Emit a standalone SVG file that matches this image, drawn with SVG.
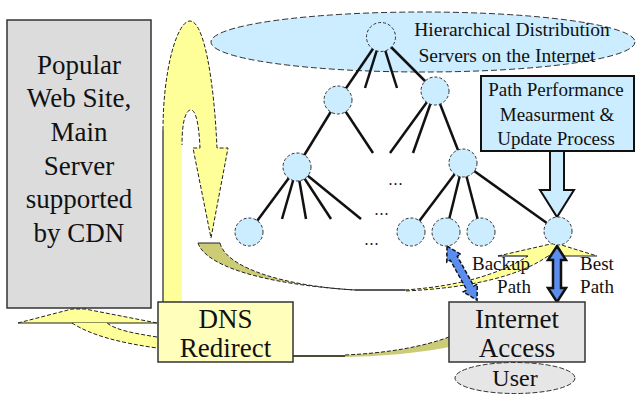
<svg xmlns="http://www.w3.org/2000/svg" width="637" height="394" viewBox="0 0 637 394">
<style>
.t{font-family:"Liberation Serif","Times New Roman","DejaVu Serif",serif;fill:#111;text-anchor:middle}
.tree{stroke:#111;stroke-width:2.5;fill:none}
.node{fill:#ccecff;stroke:#333;stroke-width:1;stroke-dasharray:3,2}
.dash{stroke:#222;stroke-width:1;stroke-dasharray:4,2;fill:none}
.yel{fill:#ffff99}
.olive{fill:#cccc77}
.blue{fill:#5b8def}
</style>
<rect width="637" height="394" fill="#fff"/>

<g id="cloud">
<ellipse cx="423" cy="42" rx="212" ry="30" fill="#ccecff" stroke="#333" stroke-width="1" stroke-dasharray="6,3"/>
<text class="t" x="512" y="36" font-size="19.5">Hierarchical Distribution</text>
<text class="t" x="507" y="62" font-size="19.5">Servers on the Internet</text>
</g>

<g id="main-server">
<rect x="7" y="20" width="144" height="288" fill="#dcdcdc" stroke="#333" stroke-width="1.5"/>
<text class="t" font-size="27"><tspan x="79" y="74">Popular</tspan><tspan x="79" y="107">Web Site,</tspan><tspan x="79" y="141">Main</tspan><tspan x="79" y="175">Server</tspan><tspan x="79" y="208">supported</tspan><tspan x="79" y="242">by CDN</tspan></text>
</g>

<g id="connectors">
<g class="tree">
<line x1="381" y1="37" x2="338" y2="100"/>
<line x1="381" y1="37" x2="365" y2="88"/>
<line x1="381" y1="37" x2="397" y2="88"/>
<line x1="381" y1="37" x2="435" y2="91"/>
<line x1="338" y1="100" x2="297" y2="167"/>
<line x1="338" y1="100" x2="373" y2="153"/>
<line x1="435" y1="91" x2="390" y2="153"/>
<line x1="435" y1="91" x2="413" y2="153"/>
<line x1="435" y1="91" x2="463" y2="163"/>
<line x1="297" y1="167" x2="249" y2="232"/>
<line x1="297" y1="167" x2="282" y2="219"/>
<line x1="297" y1="167" x2="306" y2="219"/>
<line x1="297" y1="167" x2="331" y2="219"/>
<line x1="297" y1="167" x2="361" y2="219"/>
<line x1="463" y1="163" x2="411" y2="232"/>
<line x1="463" y1="163" x2="446" y2="232"/>
<line x1="463" y1="163" x2="481" y2="232"/>
<line x1="463" y1="163" x2="558" y2="231"/>
</g>

<path class="yel" d="M163,302 L163,130 C163,70 177,21 190,21 C204,21 214,80 217,148 L228,148 L211,238 L193,148 L200,148 C199,125 196,110 191,110 C186,110 182,120 182,135 L182,302 Z"/>
<path class="dash" d="M163,130 C163,70 177,21 190,21 C204,21 214,80 217,148 L228,148 L211,238 L193,148 L200,148 C199,125 196,110 191,110 C186,110 182,120 182,145"/>
<line x1="163" y1="130" x2="163" y2="302" stroke="#222" stroke-width="1.2"/>

<path class="olive" d="M198,243 C205,265 260,284 355,290 C285,286 226,268 220,243 Z"/>
<path class="dash" d="M198,243 C205,265 260,284 355,290 M220,243 C226,268 285,286 355,290"/>
<line x1="198" y1="243" x2="220" y2="243" stroke="#222" stroke-width="1"/>
<line x1="355" y1="290" x2="405" y2="290" stroke="#222" stroke-width="1.5"/>
<path class="yel" d="M405,290 C460,286 500,274 528,256 L548,256 C520,276 470,288 405,291 Z"/>
<path class="dash" d="M405,290 C460,286 500,274 528,256 M548,256 C520,276 470,288 405,291"/>
<path class="yel" d="M498,256 L555,243 L597,256 Z"/>
<path class="dash" d="M498,256 L555,243 L597,256"/>
<line x1="498" y1="256" x2="528" y2="256" stroke="#222" stroke-width="1.2"/>
<line x1="548" y1="256" x2="597" y2="256" stroke="#222" stroke-width="1.2"/>

<path class="yel" d="M18,323 L72,309 L85,309 L157,323 Z"/>
<path class="dash" d="M18,323 L72,309 L85,309 L157,323"/>
<line x1="18" y1="323" x2="157" y2="323" stroke="#222" stroke-width="1.2"/>
<path class="yel" d="M72,323 C92,336 122,343 157,348 L157,337 C132,333 116,330 107,323 Z"/>
<path class="dash" d="M72,323 C92,336 122,343 157,348 M157,337 C132,333 116,330 107,323"/>

<path class="olive" d="M293,355 L345,355 C390,353 425,346 449,337 L449,347 C425,352 390,356 345,357 L293,357 Z"/>
<path class="dash" d="M345,355 C390,353 425,346 449,337"/>
<line x1="293" y1="356" x2="345" y2="356" stroke="#222" stroke-width="1.5"/>

<path d="M550,151 L550,190 L540,190 L557,217 L574,190 L564,190 L564,151" fill="#ccecff" stroke="#111" stroke-width="2"/>

<path class="blue" transform="translate(447,246) rotate(-29)" d="M0,0 L8,14 L4,14 L4,48 L8,48 L0,62 L-8,48 L-4,48 L-4,14 L-8,14 Z" stroke="#111" stroke-width="1.5" stroke-dasharray="4,2"/>
<path class="blue" d="M557,246 L566,260 L561,260 L561,288 L566,288 L557,302 L548,288 L553,288 L553,260 L548,260 Z" stroke="#111" stroke-width="2.5"/>
</g>

<g id="tree-nodes">
<circle class="node" cx="381" cy="37" r="14.5"/>
<circle class="node" cx="338" cy="100" r="14"/>
<circle class="node" cx="435" cy="91" r="14"/>
<circle class="node" cx="297" cy="167" r="14"/>
<circle class="node" cx="463" cy="163" r="14"/>
<circle class="node" cx="249" cy="232" r="14"/>
<circle class="node" cx="411" cy="232" r="14"/>
<circle class="node" cx="446" cy="232" r="14"/>
<circle class="node" cx="481" cy="232" r="14"/>
<circle class="node" cx="558" cy="231" r="14"/>
<text class="t" x="396" y="185" font-size="16" letter-spacing="1">...</text>
<text class="t" x="382" y="215" font-size="16" letter-spacing="1">...</text>
<text class="t" x="372" y="245" font-size="16" letter-spacing="1">...</text>
</g>

<g id="measurement">
<rect x="481" y="76" width="153" height="75" fill="#ccecff" stroke="#111" stroke-width="2"/>
<text class="t" font-size="19"><tspan x="556" y="96">Path Performance</tspan><tspan x="557" y="121">Measurment &amp;</tspan><tspan x="556" y="145">Update Process</tspan></text>
</g>

<g id="labels">
<text class="t" x="501" y="270" font-size="19">Backup</text>
<text class="t" x="514" y="293" font-size="19">Path</text>
<text class="t" x="597" y="270" font-size="19">Best</text>
<text class="t" x="597" y="293" font-size="19">Path</text>
</g>

<g id="dns">
<rect x="158" y="302" width="135" height="60" fill="#ffffbb" stroke="#333" stroke-width="1.5"/>
<text class="t" font-size="27"><tspan x="225.5" y="328">DNS</tspan><tspan x="225.5" y="357">Redirect</tspan></text>
</g>

<g id="internet">
<rect x="449" y="302" width="136" height="60" fill="#e6e6e6" stroke="#333" stroke-width="1.5"/>
<text class="t" font-size="27"><tspan x="517" y="328">Internet</tspan><tspan x="517" y="357">Access</tspan></text>
</g>

<g id="user">
<ellipse cx="515" cy="378" rx="60" ry="15.5" fill="#e6e6e6" stroke="#333" stroke-width="1" stroke-dasharray="5,2"/>
<text class="t" x="515" y="386" font-size="24">User</text>
</g>
</svg>
